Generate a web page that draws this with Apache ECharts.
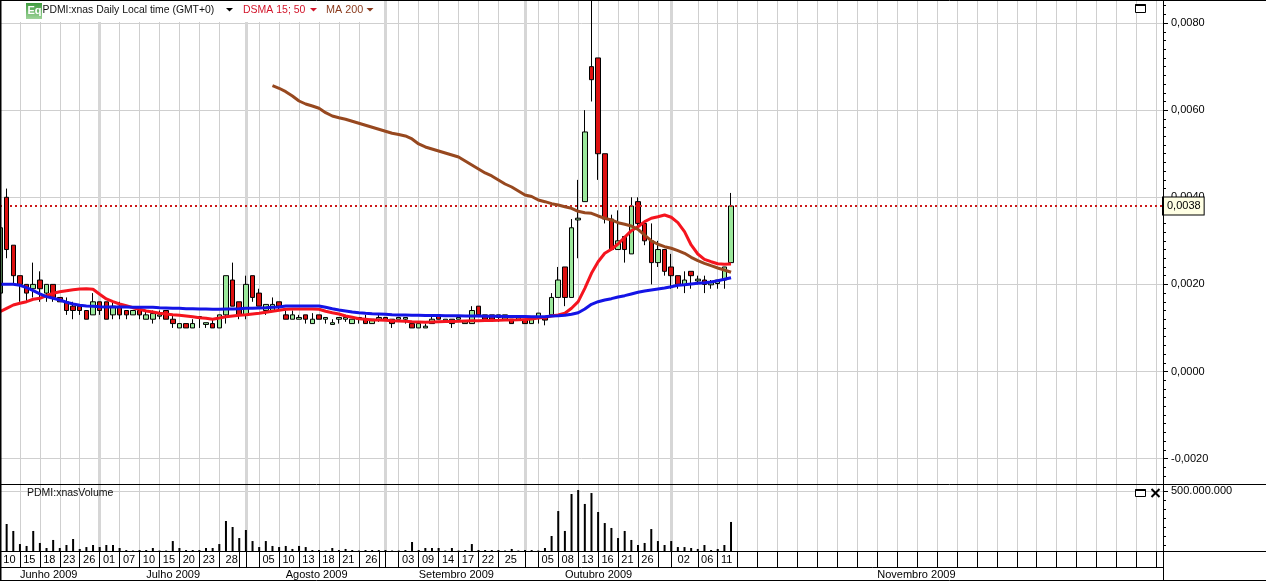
<!DOCTYPE html>
<html><head><meta charset="utf-8">
<style>html,body{margin:0;padding:0;background:#fff}#c{width:1266px;height:581px}</style>
<script src="https://cdn.jsdelivr.net/npm/echarts@6/dist/echarts.min.js"></script>
</head><body><div id="c"></div>
<script>
// Prices are in units of 0.0001
const opens = [18,40,29,22,20,19,21,18,20,17, 16,15,15,14,13,16,16,13,15,14, 13,14,12,12,12.7,14,12,10,11,10,
 12.6,10.8,11,10,13,21,16,13,22,18, 14,14,16,13,12,12,13,11,13,12, 10.8,12,12,11,12,12,11,12,12.4,12,
 12,12,11,10,10,11,13,11.4,12,12, 11,11,15,13,13,12.4,12,12,12,12, 11,12.6,12.4,13,17,24,17,34.8,39,70,
 72,50,35,28,31,27,39,34,30,25, 28,24,22,20,23,20.8,21,19.9,20.2,21, 25];
const closes = [33,28,22,20,18,20,19,20,17,16, 14,14,14,12,16,14,12,15,13,13, 14,13,13,13.3,13,12,11,11,10,11,
 12.2,11.2,10,13,22,15,13,20,17,15, 15.4,15.4,15,12,13,12.4,12,12,12,12.4, 11.2,12.4,12.4,12,12.4,11,12,12.4,11.8,11,
 12.4,12.4,10,11,10.4,12,12,12,11,12.4, 11.4,14,13,12,12,13,13,11,12.4,11, 12,13.4,11.8,17,21,17,33,35.2,55,67,
 50,35,28,30,28,38,34,30,25,28, 23,22,20,21,22,21.2,20,20.4,21,24, 38];
const highs = [33,42,29,22,20,25,23,20,20,17, 17,16,15,14,18,16,16,16,16,14, 14,15,14,14,14,14,13,11,11,12,
 12.6,11.2,12,13,22,25,16,22,22,19, 15.4,17,16,14,14,13,13,13.4,13,12.4, 12,12.4,13,12,12.4,13,12,13,12.4,12,
 12.4,12.4,11,11,11,13,13,12,12,12.4, 11.4,15,15,13,13,13,13,12,12.4,12, 12,13.4,12.4,18,24,24,35,44,60,88,
 72,50,36,37,31,40,40,34,34,30, 28,27,22,23,23,22,22,21,21,24, 41];
const lows = [18,26,20,16,16,17,16,16,16,16, 13,12,13,12,13,13,12,12,12,12, 13,12,12,11,12,12,10,10,10,10,
 10,10,10,10,11,15,12,12,16,15, 13,14,14,12,12,12,11,11,12,11, 10.8,11,11.4,11,11,11,11,11.4,11.8,10,
 12,11,10,10,10,11,12,11.4,10,12, 11,11,13,12,12,11.4,12,11,12,11, 11,11,10.6,13,17,15,17,26,39,62,
 44,34,28,28,25,27,33,29,20,24, 22,19,19,18,19,20,18,19,19,19, 25];
const dsmaRed = [13.73,14.51,15.27,15.66,16.03,16.58,16.81,17.41,17.96,18.32, 18.55,18.78,18.94,19.01,18.87,17.73,16.65,16.03,15.5,15.11,
 14.65,14.28,13.89,13.66,13.36,13.2,13.04,12.9,12.74,12.58, 12.35,12.22,11.99,12.28,12.58,12.74,12.9,13.04,13.2,13.36,
 13.59,13.82,14.05,14.28,14.35,14.35,14.35,14.35,14.28,13.82, 13.5,13.2,12.74,12.45,12.12,11.99,11.83,11.83,11.76,11.66,
 11.6,11.53,11.43,11.37,11.3,11.37,11.43,11.48,11.48,11.53, 11.6,11.66,11.66,11.71,11.71,11.76,11.83,11.83,11.87,11.94,
 12.06,12.28,12.45,12.74,12.97,13.36,14.51,16.03,19.1,22.55, 25.21,27.14,28.06,29.28,30.82,32.33,33.25,34.4,35.18,35.54,
 35.94,35.41,34.17,32.1,29.05,26.98,25.76,25.21,24.75,24.61, 24.68];
const dsmaBlue = [20.02,20.02,20.02,19.79,19.24,18.55,17.8,17.18,16.81,16.42, 15.89,15.5,15.2,15.04,14.97,14.88,14.81,14.81,14.81,14.81,
 14.74,14.74,14.74,14.74,14.65,14.58,14.51,14.51,14.42,14.42, 14.35,14.35,14.28,14.28,14.35,14.35,14.42,14.51,14.51,14.58,
 14.65,14.74,14.81,15.04,15.04,15.04,15.04,15.04,15.04,14.74, 14.42,14.12,13.89,13.66,13.5,13.36,13.27,13.2,13.13,13.04,
 12.97,12.95,12.92,12.9,12.88,12.86,12.85,12.82,12.8,12.78, 12.76,12.74,12.72,12.7,12.68,12.66,12.64,12.62,12.6,12.6,
 12.58,12.58,12.58,12.74,12.81,12.9,13.13,13.5,14.35,15.43, 16.03,16.42,16.72,17.11,17.41,17.8,18.19,18.48,18.71,18.94,
 19.17,19.47,19.79,19.93,20.09,20.25,20.39,20.55,20.85,21.17, 21.54];
const ma200Start = 41;
const ma200 = [65.63,65.03,64.25,63.26,62.11,61.42,60.96,60.44,59.43, 58.67,58.28,57.91,57.45,56.99,56.53,56.07,55.61,55.15,54.7,
 54.42,54.08,53.39,52.24,51.55,51.09,50.63,50.17,49.71,49.25, 48.34,47.42,46.5,45.58,44.89,43.97,43.05,42.36,41.45,40.53,
 40.18,39.38,38.99,38.53,38.23,37.84,37.47,36.78,36.46,36.33, 35.71,35.18,34.79,34.17,33.8,33.41,32.65,31.34,29.97,29.21,
 28.66,28.29,27.74,27.14,26.22,25.44,24.84,24.29,23.77,23.31, 22.78];
// Volume in millions of shares
const volumeM = [0,225,167,58,42,167,67,25,92,25, 50,100,17,33,50,33,50,50,25,8,
 4,8,8,25,4,4,83,25,8,8, 8,25,25,58,250,200,108,175,83,33,
 83,42,33,42,17,42,33,8,8,4, 25,8,17,8,4,8,8,8,8,4,
 4,8,75,8,25,25,25,4,25,4, 8,58,8,8,8,8,4,17,4,8,
 8,4,25,125,333,167,475,508,392,483, 325,233,192,108,167,92,50,67,183,83,
 50,83,33,33,25,17,50,8,17,50, 242];
const lastPrice = 38;
const dayLabelIndex = [0,3,6,9,12,15,18,21,24,27,30,33,39,42,45,48,51,54,60,63,66,69,72,75,81,84,87,90,93,96,101,105,108];
const dayLabelText = ['10','15','18','23','26','01','07','10','15','20','23','28','05','10','13','18','21','26','03','09','14','17','22','25','05','08','13','16','21','26','02','06','11'];
const wideDayCells = [33,54,75,101];
const monthStartIndex = [15,37,58,79,101];
const monthLabelIndex = [3,22,43,63,85,132];
const monthLabelText = ['Junho 2009','Julho 2009','Agosto 2009','Setembro 2009','Outubro 2009','Novembro 2009'];
const priceTicks = [-20,0,20,40,60,80];
const volumeTicksM = [500];

const slotCount = 176;
const slots = Array.from({length: slotCount}, (_, i) => i);
const dayCats = slots.map(i => { const k = dayLabelIndex.indexOf(i); return k >= 0 ? dayLabelText[k] : ''; });
const monthCats = slots.map(i => { const k = monthLabelIndex.indexOf(i); return k >= 0 ? monthLabelText[k] : ''; });
const FONT = '"Liberation Sans", Arial, sans-serif';
const GRID = '#cfcfcf', THICK = '#d6d6d6';
const PRICE_MIN = -25.95, PRICE_MAX = 85.3, VOL_MAX = 550;

const lightLine = i => i % 3 === 0 && i > 0 && ![36,57,78,102].includes(i) && !monthStartIndex.includes(i);
const divider = i => (i % 3 === 0 && i > 0 && ![78,102].includes(i)) || monthStartIndex.includes(i);
const isMonth = i => monthStartIndex.includes(i);

function xAxisBase(gridIndex, data, extra) {
  return Object.assign({ type:'category', gridIndex, data, boundaryGap:false, position:'bottom',
    axisLine:{show:false}, axisTick:{show:false}, axisLabel:{show:false}, splitLine:{show:false} }, extra);
}
const minorPrice = []; for (let v = -24; v <= 84; v += 2) minorPrice.push(v);
const minorVol = []; for (let k = 0; k < 7; k++) minorVol.push(500 - 75 * k);

function frame(x1,y1,x2,y2,w){ return {type:'line',z:200,silent:true,shape:{x1,y1,x2,y2},style:{stroke:'#000',lineWidth:w||1}}; }
function tri(x,y,color){ return {type:'polygon',z:210,silent:true,shape:{points:[[x-3.5,y-1.5],[x+3.5,y-1.5],[x,y+2]]},style:{fill:color}}; }
function label(x,y,text,color,size){ return {type:'text',z:210,silent:true,x,y,style:{text,fill:color,font:(size||10.8)+'px '+FONT,textVerticalAlign:'middle'}}; }
function win(x,y,w,h){ return [
  {type:'rect',z:210,silent:true,shape:{x,y,width:w,height:h},style:{fill:'#fff',stroke:'#000',lineWidth:1}},
  {type:'line',z:210,silent:true,shape:{x1:x,y1:y+0.5,x2:x+w,y2:y+0.5},style:{stroke:'#000',lineWidth:2}} ]; }

const chart = echarts.init(document.getElementById('c'), null, {renderer:'canvas', width:1266, height:581});
chart.setOption({
  animation:false,
  backgroundColor:'#fff',
  grid:[
    {left:-0.65, width:1163.65, top:0, height:484.5},
    {left:-0.65, width:1163.65, top:485, height:66}
  ],
  xAxis:[
    xAxisBase(0, slots, {splitLine:{show:true, interval:(i)=>lightLine(i), lineStyle:{color:GRID,width:1}}}),
    xAxisBase(0, slots, {splitLine:{show:true, interval:(i)=>isMonth(i), lineStyle:{color:THICK,width:3}}}),
    xAxisBase(1, dayCats, {
      axisLine:{show:true,lineStyle:{color:'#000'}},
      axisTick:{show:true,length:16,interval:(i)=>divider(i),lineStyle:{color:'#000'}},
      axisLabel:{show:true,interval:(i)=>dayCats[i]!=='',align:'left',margin:3,color:'#000',fontFamily:FONT,fontSize:11,
        padding:[0,0,0,3.3],hideOverlap:false,
        formatter:(v,i)=>wideDayCells.includes(i)?'{w|'+v+'}':v,
        rich:{w:{padding:[0,0,0,3],fontFamily:FONT,fontSize:11,color:'#000'}}},
      splitLine:{show:true,interval:(i)=>lightLine(i),lineStyle:{color:GRID,width:1}}
    }),
    xAxisBase(1, monthCats, {
      offset:16,
      axisLine:{show:true,lineStyle:{color:'#000'}},
      axisTick:{show:true,length:13,interval:(i)=>isMonth(i),lineStyle:{color:'#000'}},
      axisLabel:{show:true,interval:(i)=>monthCats[i]!=='',align:'left',margin:2,color:'#000',fontFamily:FONT,fontSize:11,hideOverlap:false},
      splitLine:{show:true,interval:(i)=>isMonth(i),lineStyle:{color:THICK,width:3}}
    })
  ],
  yAxis:[
    {type:'value',gridIndex:0,position:'right',min:PRICE_MIN,max:PRICE_MAX,
      axisLine:{show:true,onZero:false,lineStyle:{color:'#000'}},
      axisTick:{show:true,length:5,lineStyle:{color:'#000'},customValues:priceTicks},
      axisLabel:{show:true,customValues:priceTicks,margin:8,color:'#000',fontFamily:FONT,fontSize:11,showMinLabel:true,showMaxLabel:true,hideOverlap:false,
        formatter:(v)=>(v/10000).toFixed(4).replace('.',',')},
      splitLine:{show:true,lineStyle:{color:GRID,width:1}}},
    {type:'value',gridIndex:0,position:'right',min:PRICE_MIN,max:PRICE_MAX,
      axisLine:{show:false},axisLabel:{show:false},splitLine:{show:false},
      axisTick:{show:true,length:3,lineStyle:{color:'#000'},customValues:minorPrice}},
    {type:'value',gridIndex:1,position:'right',min:0,max:VOL_MAX,
      axisLine:{show:true,onZero:false,lineStyle:{color:'#000'}},
      axisTick:{show:true,length:5,lineStyle:{color:'#000'},customValues:volumeTicksM},
      axisLabel:{show:true,customValues:volumeTicksM,margin:8,color:'#000',fontFamily:FONT,fontSize:11,hideOverlap:false,
        formatter:(v)=>(v*1e6).toLocaleString('de-DE')},
      splitLine:{show:true,lineStyle:{color:GRID,width:1}}},
    {type:'value',gridIndex:1,position:'right',min:0,max:VOL_MAX,
      axisLine:{show:false},axisLabel:{show:false},splitLine:{show:false},
      axisTick:{show:true,length:3,lineStyle:{color:'#000'},customValues:minorVol}}
  ],
  series:[
    {type:'candlestick',name:'PDMI:xnas',xAxisIndex:0,yAxisIndex:0,barWidth:5,z:3,
      data:opens.map((o,i)=>[o,closes[i],lows[i],highs[i]]),
      itemStyle:{color:'#9be89b',color0:'#dd1010',borderColor:'#000',borderColor0:'#000',borderWidth:1},
      markLine:{silent:true,symbol:'none',animation:false,z:4,
        lineStyle:{color:'#cc1a1a',type:[2,3],width:2},
        label:{show:true,position:'end',distance:0,formatter:'0,0038',color:'#000',fontFamily:FONT,fontSize:11,
          backgroundColor:'#ffffe4',borderColor:'#000',borderWidth:1,padding:[3,3,3,4]},
        data:[{yAxis:lastPrice}]}},
    {type:'line',name:'DSMA 15',xAxisIndex:0,yAxisIndex:0,data:dsmaRed,showSymbol:false,z:5,lineStyle:{color:'#f5141e',width:3}},
    {type:'line',name:'DSMA 50',xAxisIndex:0,yAxisIndex:0,data:dsmaBlue,showSymbol:false,z:6,lineStyle:{color:'#1414e6',width:3}},
    {type:'line',name:'MA 200',xAxisIndex:0,yAxisIndex:0,data:Array(ma200Start).fill(null).concat(ma200),showSymbol:false,z:7,lineStyle:{color:'#97481f',width:3}},
    {type:'bar',name:'Volume',xAxisIndex:2,yAxisIndex:2,data:volumeM,barWidth:2,z:3,itemStyle:{color:'#000'}}
  ],
  graphic:[
    {type:'rect',z:190,silent:true,shape:{x:0,y:1,width:383,height:21},style:{fill:'#fff'}},
    {type:'rect',z:205,silent:true,shape:{x:26,y:3,width:16,height:16},
      style:{fill:new echarts.graphic.LinearGradient(0,0,0,1,[{offset:0,color:'#3f9c3f'},{offset:1,color:'#9fd49a'}])}},
    {type:'text',z:210,silent:true,x:27.5,y:11,style:{text:'Eq',fill:'#fff',font:'bold 11px '+FONT,textVerticalAlign:'middle'}},
    label(42.5,10.5,'PDMI:xnas Daily Local time (GMT+0)','#111',10.4),
    tri(229.5,9.5,'#000'),
    label(243,10.5,'DSMA 15; 50','#d2142a',10.5),
    tri(313.5,9.5,'#d2142a'),
    label(326,10.5,'MA 200','#8a3a1c'),
    tri(370,9.5,'#8a3a1c'),
    label(27,493,'PDMI:xnasVolume','#111',10.5),
    ...win(1135.5,4.5,10,8),
    ...win(1135.5,489.5,10,7),
    {type:'line',z:210,silent:true,shape:{x1:1151.5,y1:489,x2:1159.5,y2:497},style:{stroke:'#000',lineWidth:2}},
    {type:'line',z:210,silent:true,shape:{x1:1159.5,y1:489,x2:1151.5,y2:497},style:{stroke:'#000',lineWidth:2}},
    frame(0,0.5,1266,0.5),
    frame(0.5,0,0.5,581,2),
    frame(1163.5,0,1163.5,581),
    frame(0,484.5,1266,484.5),
    frame(0,551.5,1266,551.5),
    frame(0,567.5,1163,567.5),
    frame(0,580.5,1266,580.5)
  ]
});
</script></body></html>
